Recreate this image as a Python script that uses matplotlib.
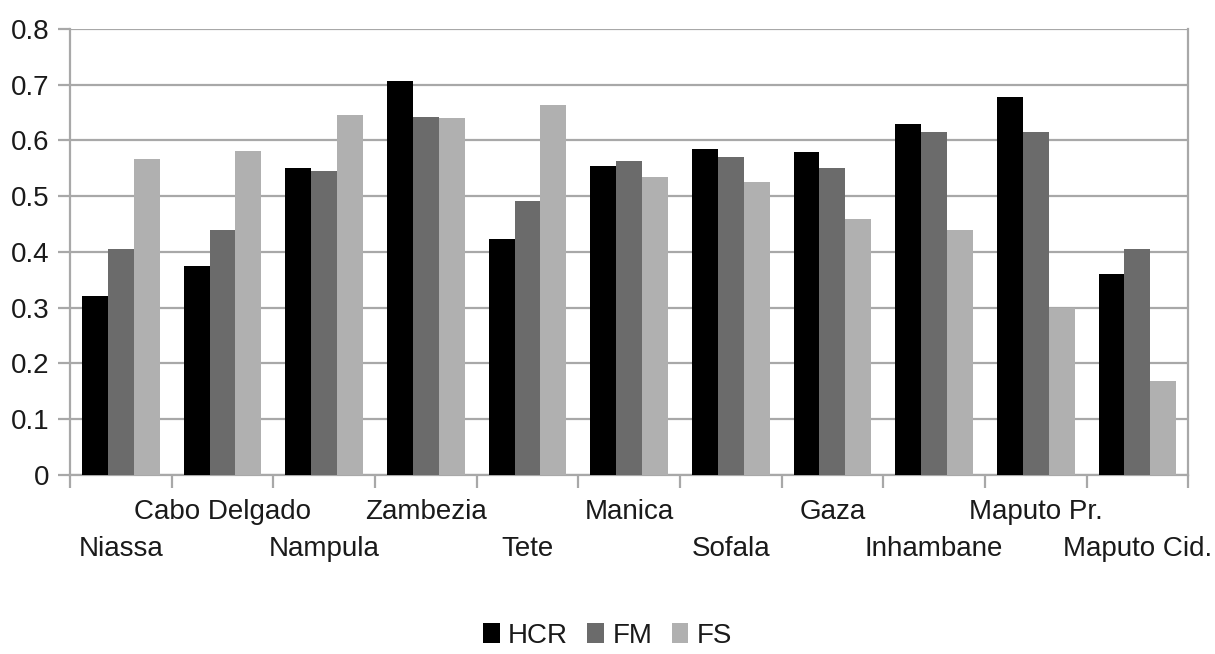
import numpy as np
import matplotlib
matplotlib.use('Agg')
import matplotlib.pyplot as plt

plt.rcParams['font.family'] = ['Liberation Sans', 'DejaVu Sans']

# provinces and the three indices
provinces = ['Niassa', 'Cabo Delgado', 'Nampula', 'Zambezia', 'Tete', 'Manica',
             'Sofala', 'Gaza', 'Inhambane', 'Maputo Pr.', 'Maputo Cid.']
hcr = [0.321, 0.375, 0.551, 0.707, 0.423, 0.554, 0.584, 0.579, 0.629, 0.678, 0.361]
fm = [0.406, 0.440, 0.545, 0.643, 0.492, 0.563, 0.570, 0.550, 0.616, 0.616, 0.406]
fs = [0.566, 0.582, 0.645, 0.640, 0.664, 0.534, 0.525, 0.459, 0.439, 0.299, 0.168]
series_names = ['HCR', 'FM', 'FS']
yticks = [0, 0.1, 0.2, 0.3, 0.4, 0.5, 0.6, 0.7, 0.8]

colors = ['#000000', '#6b6b6b', '#b0b0b0']
grid_c = '#a8a8a8'
txt_c = '#1a1a1a'

fig = plt.figure(figsize=(12.15, 6.54), dpi=100)
ax = fig.add_axes([0.0576, 0.2737, 0.9204, 0.682])

x = np.arange(len(provinces))
w = 0.255
for i, (vals, name) in enumerate(zip([hcr, fm, fs], series_names)):
    ax.bar(x + (i - 1) * w, vals, w, color=colors[i], label=name, zorder=3)

ax.set_xlim(-0.5, len(provinces) - 0.5)
ax.set_ylim(0, 0.8)
ax.set_yticks(yticks)
ax.set_yticklabels(['0' if v == 0 else '%.1f' % v for v in yticks])
ax.yaxis.grid(True, color=grid_c, linewidth=1.6, zorder=0)

ax.spines['top'].set_visible(False)
for s in ['left', 'bottom', 'right']:
    ax.spines[s].set_color(grid_c)
    ax.spines[s].set_linewidth(1.6)

ax.tick_params(axis='y', length=9, width=1.6, color=grid_c, labelsize=20,
               labelcolor=txt_c, pad=6)

# ticks between the groups, category names on two staggered rows
ax.set_xticks(np.arange(-0.5, len(provinces)))
ax.set_xticklabels([])
ax.tick_params(axis='x', length=9, width=1.6, color=grid_c)
for k, p in enumerate(provinces):
    yrow = -0.165 if k % 2 == 0 else -0.084
    ax.text(k, yrow, p, transform=ax.get_xaxis_transform(), ha='center',
            va='center', fontsize=20, color=txt_c)

fig.legend(loc='lower center', bbox_to_anchor=(0.5, -0.03), ncol=3, frameon=False,
           fontsize=20, handlelength=0.6, handleheight=0.7, handletextpad=0.3,
           columnspacing=0.7, labelcolor=txt_c)

fig.savefig('out.png', dpi=100)
